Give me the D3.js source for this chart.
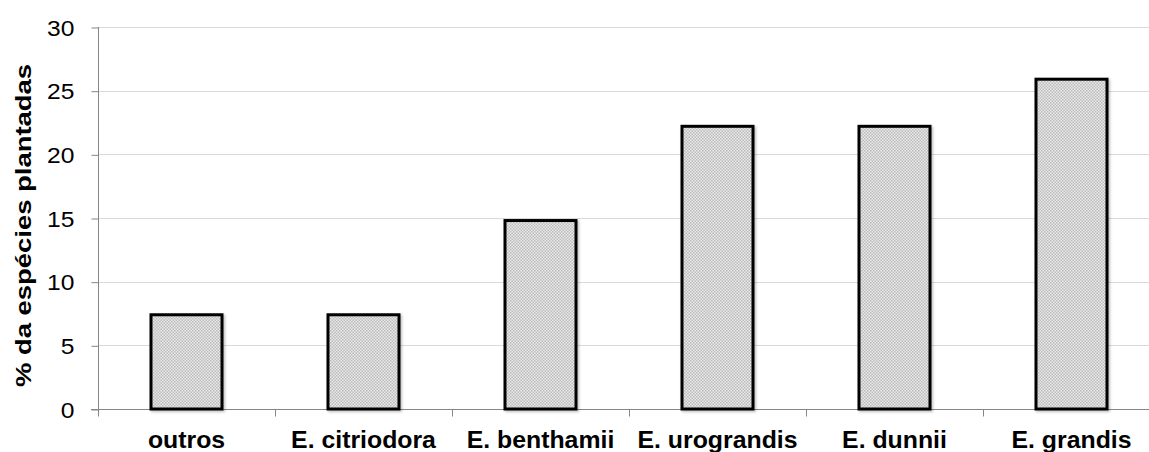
<!DOCTYPE html>
<html>
<head>
<meta charset="utf-8">
<script src="https://cdn.jsdelivr.net/npm/d3@7"></script>
<style>
  html, body { margin: 0; padding: 0; background: #fff; }
  svg { display: block; font-family: "Liberation Sans", Arial, sans-serif; }
</style>
</head>
<body>
<svg id="chart" width="1149" height="452"></svg>
<script>
// Share of planted Eucalyptus species (%)
const categories = ["outros", "E. citriodora", "E. benthamii", "E. urograndis", "E. dunnii", "E. grandis"];
const values = [7.4, 7.4, 14.8, 22.2, 22.2, 25.9];
const yTicks = [0, 5, 10, 15, 20, 25, 30];
const yTitle = "% da espécies plantadas";

const svg = d3.select("#chart");
const margin = { left: 98, top: 27, bottom: 43 };
const bandW = 177;
const plotRight = margin.left + bandW * categories.length;
const plotBottom = 452 - margin.bottom;

const x = d3.scaleBand().domain(categories).range([margin.left, plotRight]).paddingInner(0).paddingOuter(0);
const y = d3.scaleLinear().domain([0, 30]).range([plotBottom, margin.top]);

// checkered fill for the bars
const defs = svg.append("defs");
const pat = defs.append("pattern").attr("id", "check").attr("patternUnits", "userSpaceOnUse")
  .attr("width", 3).attr("height", 3);
pat.append("rect").attr("width", 3).attr("height", 3).attr("fill", "#e8e8e8");
pat.append("rect").attr("x", 0).attr("y", 0).attr("width", 1.5).attr("height", 1.5).attr("fill", "#bdbdbd");
pat.append("rect").attr("x", 1.5).attr("y", 1.5).attr("width", 1.5).attr("height", 1.5).attr("fill", "#bdbdbd");

const shadow = defs.append("filter").attr("id", "shadow").attr("x", "-10%").attr("y", "-10%").attr("width", "120%").attr("height", "120%");
shadow.append("feDropShadow").attr("dx", 1.5).attr("dy", 1.5).attr("stdDeviation", 1.2).attr("flood-color", "#000").attr("flood-opacity", 0.25);

// gridlines
svg.append("g").selectAll("line").data(yTicks.filter(d => d > 0)).join("line")
  .attr("x1", margin.left).attr("x2", 1149)
  .attr("y1", d => Math.round(y(d)) + 0.5).attr("y2", d => Math.round(y(d)) + 0.5)
  .attr("stroke", "#dadada").attr("stroke-width", 1);

// y axis
const yAxis = d3.axisLeft(y).tickValues(yTicks).tickSize(7).tickPadding(0).tickFormat(d3.format("d"));
const gy = svg.append("g").attr("transform", `translate(${margin.left + 0.5},0)`).call(yAxis);
gy.attr("font-size", null).attr("font-family", null);
gy.select(".domain").attr("stroke", "#868686").attr("d", `M0,${y(30)}V${plotBottom + 0.5}`);
gy.selectAll(".tick line").attr("stroke", "#868686").attr("transform", "translate(0,0.5)");
gy.selectAll(".tick text")
  .attr("x", null).attr("dy", null)
  .attr("transform", "translate(-24,8) scale(1.12,1)")
  .attr("font-size", 22).attr("fill", "#000");

// x axis baseline and separators
const gx = svg.append("g").attr("transform", `translate(0,${Math.round(plotBottom) + 0.5})`);
gx.append("line").attr("x1", margin.left - 7).attr("x2", 1149).attr("stroke", "#868686");
gx.selectAll("line.sep").data(d3.range(categories.length + 1)).join("line").attr("class", "sep")
  .attr("x1", i => Math.round(margin.left + i * bandW) + 0.5).attr("x2", i => Math.round(margin.left + i * bandW) + 0.5)
  .attr("y1", 0).attr("y2", 7).attr("stroke", "#868686");

gx.selectAll("text").data(categories).join("text")
  .attr("transform", d => `translate(${x(d) + x.bandwidth() / 2},38) scale(1.08,1)`)
  .attr("text-anchor", "middle")
  .attr("font-size", 23).attr("font-weight", "bold").attr("fill", "#000")
  .text(d => d);

// bars
const barW = 71;
svg.append("g").selectAll("rect").data(categories.map((c, i) => ({ c, v: values[i] }))).join("rect")
  .attr("x", d => x(d.c) + (x.bandwidth() - barW) / 2)
  .attr("y", d => y(d.v))
  .attr("width", barW)
  .attr("height", d => y(0) - y(d.v))
  .attr("fill", "url(#check)")
  .attr("stroke", "#000").attr("stroke-width", 3)
  .attr("filter", "url(#shadow)");

// y axis title
svg.append("text")
  .attr("transform", `translate(31,${(margin.top + plotBottom) / 2 + 7.5}) rotate(-90) scale(1.22,1)`)
  .attr("text-anchor", "middle")
  .attr("font-size", 22.5).attr("font-weight", "bold").attr("fill", "#000")
  .text(yTitle);
</script>
</body>
</html>
